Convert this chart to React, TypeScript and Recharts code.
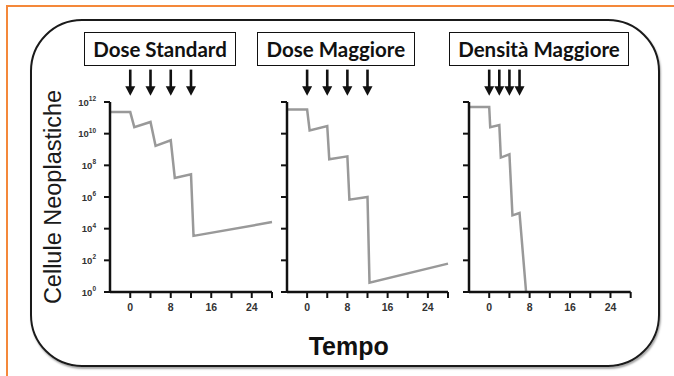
import React from 'react';
import { LineChart, Line, XAxis, YAxis, ReferenceDot } from 'recharts';

// ---- data ----
const timeTicks = [0, 4, 8, 12, 16, 20, 24, 28];
const timeLabels = [0, 8, 16, 24];
const cellTicks = [1, 1e2, 1e4, 1e6, 1e8, 1e10, 1e12];

const panelTitles = ['Dose Standard', 'Dose Maggiore', 'Densità Maggiore'];

const standardTime = [-4, 0, 0.8, 4, 5, 8, 8.8, 12, 12.5, 28];
const standardCells = [2.3e11, 2.3e11, 2.6e10, 5.5e10, 1.7e9, 3.8e9, 1.6e7, 2.7e7, 3.5e3, 2.6e4];
const standardDoses = [0, 4, 8, 12];

const maggioreTime = [-4, 0, 0.5, 4, 4.4, 8, 8.4, 12, 12.4, 28];
const maggioreCells = [3.3e11, 3.3e11, 1.6e10, 3.0e10, 2.4e8, 3.7e8, 6.8e5, 1.0e6, 3.9, 62];
const maggioreDoses = [0, 4, 8, 12];

const densitaTime = [-4, 0, 0.2, 2, 2.3, 4, 4.6, 6, 7.3];
const densitaCells = [4.8e11, 4.8e11, 2.6e10, 3.5e10, 3.1e8, 5.0e8, 6.9e4, 9.8e4, 1];
const densitaDoses = [0, 2, 4, 6];

const yLabel = 'Cellule Neoplastiche';
const xLabel = 'Tempo';

// ---- layout ----
const M_TOP = 40;
const M_RIGHT = 10;
const Y_W = 50;
const X_H = 30;
const PLOT_TOP = 101.7;
const PLOT_H = 190;

const toRows = (t: number[], c: number[]) => t.map((v, i) => ({ t: v, cells: c[i] }));

const YTickLabel = (props: any) => {
  const { x, y, payload } = props;
  const exp = Math.round(Math.log10(payload.value));
  return (
    <text x={x} y={y + 3.5} textAnchor="end" fill="#333" fontSize={9.5} fontWeight="bold"
      fontFamily="'Liberation Sans', Arial, sans-serif">
      <tspan>10</tspan>
      <tspan dy={-4.5} fontSize={6.5}>{exp}</tspan>
    </text>
  );
};
const NoTick = () => <g />;

const Arrow = (props: any) => {
  const { cx, cy } = props;
  const top = cy - 32.4;
  const tip = cy - 6.2;
  return (
    <g>
      <line x1={cx} y1={top} x2={cx} y2={tip - 7} stroke="#111" strokeWidth={2.6} />
      <polygon points={`${cx - 5},${tip - 9.5} ${cx + 5},${tip - 9.5} ${cx},${tip}`} fill="#111" />
    </g>
  );
};

function Panel({ axisX, plotW, time, cells, doses, showY }: any) {
  const width = Y_W + plotW + M_RIGHT;
  const height = M_TOP + PLOT_H + X_H;
  return (
    <div style={{ position: 'absolute', left: axisX - Y_W, top: PLOT_TOP - M_TOP, width, height }}>
      <LineChart width={width} height={height} data={toRows(time, cells)}
        margin={{ top: M_TOP, right: M_RIGHT, left: 0, bottom: 0 }}>
        <XAxis dataKey="t" type="number" domain={[-4, 28]} ticks={timeTicks} height={X_H}
          tickFormatter={(v: number) => (timeLabels.includes(v) ? String(v) : '')}
          tickSize={6} tickMargin={6} interval={0}
          axisLine={{ stroke: '#111', strokeWidth: 2.5 }} tickLine={{ stroke: '#111', strokeWidth: 2 }}
          tick={{ fontSize: 10.5, fontWeight: 'bold', fill: '#333', fontFamily: "'Liberation Sans', Arial, sans-serif" }} />
        <YAxis dataKey="cells" type="number" scale="log" domain={[1, 1e12]} ticks={cellTicks} width={Y_W}
          allowDataOverflow interval={0} tickSize={6} tickMargin={8}
          axisLine={{ stroke: '#111', strokeWidth: 2.5 }} tickLine={{ stroke: '#111', strokeWidth: 2 }}
          tick={showY ? <YTickLabel /> : <NoTick />} />
        <Line type="linear" dataKey="cells" stroke="#999999" strokeWidth={2.5} dot={false}
          isAnimationActive={false} />
        {doses.map((d: number) => (
          <ReferenceDot key={d} x={d} y={1e12} r={0} shape={<Arrow />} ifOverflow="visible" />
        ))}
      </LineChart>
    </div>
  );
}

const titleBoxes = [
  { left: 84, right: 236 },
  { left: 256.7, right: 415 },
  { left: 449, right: 629 },
];

export default function App() {
  return (
    <div style={{ position: 'absolute', left: 0, top: 0, width: 674, height: 376, background: '#fff', overflow: 'hidden' }}>
      {/* orange frame */}
      <div style={{ position: 'absolute', left: 6, top: 5, width: 668, height: 2, background: '#f4883a' }} />
      <div style={{ position: 'absolute', left: 6, top: 5, width: 2, height: 371, background: '#f4883a' }} />
      {/* rounded box */}
      <div style={{ position: 'absolute', left: 30, top: 19, width: 630, height: 348, boxSizing: 'border-box',
        border: '2.5px solid #1a1a1a', borderRadius: 52, boxShadow: '1px 2px 2px rgba(0,0,0,0.35)' }} />
      {/* titles */}
      {titleBoxes.map((b, i) => (
        <div key={i} style={{ position: 'absolute', left: b.left, top: 31.7, width: b.right - b.left, height: 34,
          boxSizing: 'border-box', border: '1.5px solid #111', background: '#fff', display: 'flex',
          alignItems: 'center', justifyContent: 'center', fontFamily: 'Lato, "Open Sans", sans-serif',
          fontWeight: 'bold', fontSize: 20.5, color: '#111', whiteSpace: 'nowrap' }}>
          {panelTitles[i]}
        </div>
      ))}
      <Panel axisX={110} plotW={162} time={standardTime} cells={standardCells} doses={standardDoses} showY />
      <Panel axisX={286.7} plotW={161} time={maggioreTime} cells={maggioreCells} doses={maggioreDoses} showY={false} />
      <Panel axisX={469.3} plotW={161.7} time={densitaTime} cells={densitaCells} doses={densitaDoses} showY={false} />
      {/* axis titles */}
      <div style={{ position: 'absolute', left: 53, top: 196.5, transform: 'translate(-50%, -50%) rotate(-90deg)',
        fontFamily: "'Liberation Sans', Arial, sans-serif", fontSize: 23.5, color: '#1a1a1a', whiteSpace: 'nowrap' }}>
        {yLabel}
      </div>
      <div style={{ position: 'absolute', left: 348.7, top: 345.5, transform: 'translate(-50%, -50%)',
        fontFamily: "'Liberation Sans', Arial, sans-serif", fontSize: 25, fontWeight: 'bold', color: '#111',
        whiteSpace: 'nowrap' }}>
        {xLabel}
      </div>
    </div>
  );
}
